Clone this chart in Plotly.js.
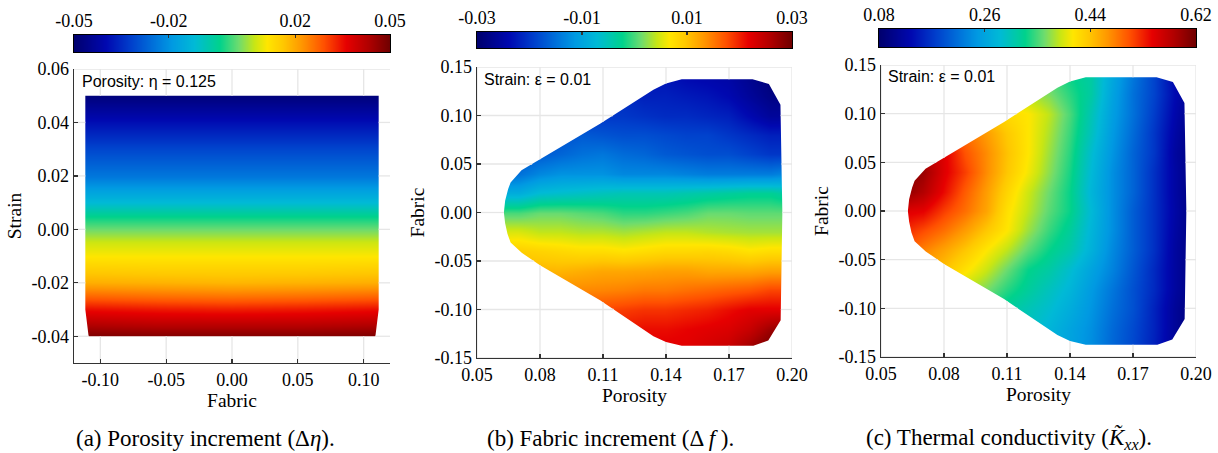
<!DOCTYPE html>
<html><head><meta charset="utf-8">
<script src="https://cdn.plot.ly/plotly-3.0.1.min.js"></script>
<style>html,body{margin:0;padding:0;background:#fff;}#chart{width:1218px;height:453px;}</style>
</head><body><div id="chart"></div>
<script>
// ================= DATA =================
// (a) Porosity increment, eta = 0.125
const fabricA = [-0.11, -0.055, 0, 0.055, 0.11];
const strainA = [-0.04, -0.035, -0.03, -0.025, -0.02, -0.015, -0.01, -0.005, 0, 0.005, 0.01, 0.02, 0.03, 0.04, 0.05];
const dEta = [
  [0.0485, 0.048, 0.048, 0.048, 0.0485],
  [0.042, 0.041, 0.041, 0.041, 0.042],
  [0.035, 0.034, 0.0335, 0.034, 0.035],
  [0.027, 0.026, 0.0255, 0.026, 0.027],
  [0.019, 0.0185, 0.018, 0.0185, 0.019],
  [0.015, 0.0145, 0.0145, 0.0145, 0.015],
  [0.011, 0.011, 0.011, 0.011, 0.011],
  [0.0075, 0.0075, 0.0075, 0.0075, 0.0075],
  [0.002, 0.002, 0.002, 0.002, 0.002],
  [-0.004, -0.004, -0.004, -0.004, -0.004],
  [-0.012, -0.012, -0.012, -0.012, -0.012],
  [-0.024, -0.024, -0.024, -0.024, -0.024],
  [-0.031, -0.031, -0.031, -0.031, -0.031],
  [-0.039, -0.039, -0.039, -0.039, -0.039],
  [-0.048, -0.048, -0.048, -0.048, -0.048]
];
const outlineFabricA = [-0.1114, 0.1114, 0.1114, 0.1089, -0.1089, -0.1114];
const outlineStrainA = [0.05, 0.05, -0.03, -0.04, -0.04, -0.03];

// shared grid for (b) and (c), strain = 0.01
const porosityGrid = [0.062, 0.07, 0.08, 0.09, 0.10, 0.11, 0.12, 0.13, 0.14, 0.15, 0.16, 0.17, 0.18, 0.19, 0.197];
const fabricGrid = [-0.14, -0.12, -0.10, -0.08, -0.06, -0.04, -0.02, 0, 0.02, 0.04, 0.06, 0.08, 0.10, 0.12, 0.14];

// (b) Fabric increment
const dFabric = [
  [0.016,0.017,0.018,0.019,0.02,0.021,0.021,0.022,0.022,0.022,0.023,0.024,0.027,0.030,0.030],
  [0.015,0.016,0.017,0.018,0.019,0.020,0.0205,0.021,0.021,0.0215,0.022,0.0225,0.024,0.027,0.028],
  [0.014,0.015,0.016,0.017,0.0175,0.018,0.0185,0.019,0.019,0.0195,0.020,0.021,0.022,0.022,0.022],
  [0.013,0.0135,0.014,0.014,0.014,0.0142,0.0145,0.015,0.015,0.0155,0.016,0.0165,0.017,0.018,0.018],
  [0.011,0.011,0.011,0.011,0.0115,0.012,0.012,0.0122,0.0125,0.0125,0.012,0.012,0.012,0.0125,0.0125],
  [0.0085,0.009,0.0085,0.008,0.0075,0.0075,0.007,0.0075,0.008,0.008,0.0082,0.0078,0.007,0.0075,0.0075],
  [0.005,0.005,0.004,0.004,0.0035,0.0035,0.003,0.0035,0.004,0.004,0.0035,0.0032,0.003,0.003,0.003],
  [0.0,0.0,0.001,0.001,0.0005,0.0,-0.001,-0.001,-0.0005,0.0,0.001,0.001,0.0007,0.0007,0.0007],
  [-0.009,-0.009,-0.007,-0.0065,-0.006,-0.0055,-0.005,-0.005,-0.005,-0.0045,-0.004,-0.0035,-0.003,-0.003,-0.004],
  [-0.016,-0.015,-0.013,-0.012,-0.012,-0.012,-0.013,-0.013,-0.013,-0.0135,-0.014,-0.014,-0.014,-0.014,-0.013],
  [-0.018,-0.018,-0.017,-0.016,-0.015,-0.0145,-0.0155,-0.016,-0.017,-0.0175,-0.018,-0.018,-0.019,-0.020,-0.020],
  [-0.019,-0.019,-0.018,-0.018,-0.017,-0.0175,-0.018,-0.018,-0.0185,-0.019,-0.019,-0.020,-0.021,-0.022,-0.022],
  [-0.020,-0.020,-0.020,-0.020,-0.020,-0.020,-0.020,-0.0205,-0.021,-0.021,-0.0215,-0.022,-0.024,-0.026,-0.026],
  [-0.021,-0.021,-0.021,-0.021,-0.021,-0.021,-0.021,-0.022,-0.022,-0.0225,-0.023,-0.024,-0.026,-0.028,-0.028],
  [-0.022,-0.022,-0.022,-0.022,-0.022,-0.022,-0.022,-0.023,-0.023,-0.024,-0.0245,-0.025,-0.027,-0.029,-0.029]
];

// (c) Thermal conductivity K_xx
const kxx = [
  [0.40,0.38,0.36,0.34,0.32,0.305,0.29,0.275,0.258,0.238,0.208,0.183,0.153,0.113,0.09],
  [0.41,0.39,0.37,0.35,0.33,0.315,0.30,0.28,0.26,0.24,0.21,0.185,0.155,0.115,0.092],
  [0.43,0.41,0.385,0.36,0.34,0.32,0.305,0.29,0.27,0.245,0.215,0.19,0.155,0.115,0.095],
  [0.45,0.43,0.41,0.385,0.365,0.34,0.32,0.30,0.28,0.25,0.22,0.19,0.16,0.12,0.10],
  [0.48,0.46,0.44,0.415,0.39,0.36,0.33,0.315,0.29,0.26,0.23,0.195,0.16,0.12,0.10],
  [0.50,0.48,0.46,0.437,0.41,0.385,0.355,0.33,0.31,0.275,0.235,0.20,0.165,0.12,0.10],
  [0.525,0.51,0.49,0.465,0.437,0.41,0.375,0.345,0.32,0.28,0.24,0.20,0.165,0.123,0.10],
  [0.55,0.545,0.515,0.49,0.46,0.415,0.385,0.355,0.33,0.285,0.24,0.20,0.165,0.125,0.10],
  [0.60,0.58,0.54,0.50,0.465,0.425,0.39,0.36,0.33,0.28,0.24,0.205,0.165,0.123,0.10],
  [0.61,0.595,0.55,0.515,0.475,0.437,0.405,0.37,0.335,0.285,0.24,0.205,0.165,0.123,0.10],
  [0.60,0.58,0.55,0.505,0.475,0.44,0.41,0.375,0.34,0.29,0.245,0.205,0.17,0.12,0.10],
  [0.57,0.55,0.52,0.49,0.465,0.435,0.41,0.38,0.345,0.30,0.25,0.21,0.17,0.125,0.10],
  [0.52,0.50,0.48,0.46,0.44,0.42,0.41,0.385,0.35,0.305,0.255,0.215,0.175,0.13,0.105],
  [0.47,0.46,0.45,0.43,0.41,0.39,0.38,0.365,0.34,0.315,0.26,0.215,0.18,0.135,0.11],
  [0.45,0.44,0.43,0.41,0.39,0.37,0.36,0.35,0.33,0.315,0.265,0.22,0.18,0.13,0.105]
];

// outline of the sampled domain (porosity, fabric) for (b) and (c)
const outlinePorosity = [0.0628,0.0634,0.0648,0.0660,0.0712,0.0768,0.1086,0.1340,0.1400,0.1475,0.1812,0.1890,0.1945,0.1954,
                         0.1946,0.1887,0.1816,0.1475,0.1400,0.1340,0.1086,0.0800,0.0713,0.0660,0.0645,0.0634];
const outlineFabric   = [0.000,0.012,0.024,0.031,0.0435,0.0507,0.0915,0.1265,0.1330,0.1373,0.1373,0.1325,0.1110,0.000,
                         -0.1110,-0.1320,-0.1373,-0.1373,-0.1335,-0.1275,-0.0905,-0.0545,-0.0415,-0.0310,-0.0220,-0.0110];

// colour-bar ranges and tick labels
const cbRangeA = [-0.05, 0.05], cbTickA = [-0.05, -0.02, 0.02, 0.05], cbLabelA = ['-0.05', '-0.02', '0.02', '0.05'];
const cbRangeB = [-0.03, 0.03], cbTickB = [-0.03, -0.01, 0.01, 0.03], cbLabelB = ['-0.03', '-0.01', '0.01', '0.03'];
const cbRangeC = [0.08, 0.62],  cbTickC = [0.08, 0.26, 0.44, 0.62],   cbLabelC = ['0.08', '0.26', '0.44', '0.62'];

// axis ticks
const xTickA = [-0.10, -0.05, 0.00, 0.05, 0.10], xLabelA = ['-0.10', '-0.05', '0.00', '0.05', '0.10'];
const yTickA = [-0.04, -0.02, 0.00, 0.02, 0.04, 0.06], yLabelA = ['-0.04', '-0.02', '0.00', '0.02', '0.04', '0.06'];
const xTickBC = [0.05, 0.08, 0.11, 0.14, 0.17, 0.20], xLabelBC = ['0.05', '0.08', '0.11', '0.14', '0.17', '0.20'];
const yTickBC = [-0.15, -0.10, -0.05, 0.00, 0.05, 0.10, 0.15], yLabelBC = ['-0.15', '-0.10', '-0.05', '0.00', '0.05', '0.10', '0.15'];

// ================= STYLE / LAYOUT =================
const W = 1218, H = 453;
const SERIF = 'Liberation Serif, Times New Roman, serif';
const SANS = 'Liberation Sans, Arial, sans-serif';
const jet = [
  [0.00, '#00006e'], [0.10, '#0008b0'], [0.18, '#0040cc'], [0.26, '#0078dc'], [0.31, '#009ae2'],
  [0.38, '#00bad6'], [0.46, '#00d28c'], [0.52, '#6edc6e'], [0.57, '#c8e614'], [0.61, '#ffe600'],
  [0.66, '#ffc800'], [0.72, '#ff9600'], [0.79, '#ff5000'], [0.86, '#e60000'], [0.93, '#b00000'], [1.00, '#6e0000']
];
const dxp = (a, b) => [a / W, b / W];
const dyp = (top, bot) => [1 - bot / H, 1 - top / H];

const boxes = {
  a: {x: [74, 390], y: [69, 363], cx: [74, 390], cy: [35, 52]},
  b: {x: [477, 792], y: [67, 358], cx: [477, 792], cy: [32, 48]},
  c: {x: [881, 1196], y: [65, 357], cx: [879, 1196], cy: [29, 47]}
};

function heat(x, y, z, rng, xa, ya) {
  return {type: 'heatmap', x: x, y: y, z: z, zmin: rng[0], zmax: rng[1], colorscale: jet,
          zsmooth: 'best', showscale: false, hoverinfo: 'skip', xaxis: xa, yaxis: ya};
}
function maskTrace(px, py, xr, yr, xa, ya) {
  const n = px.length;
  let k = 0;
  for (let i = 1; i < n; i++) if (px[i] < px[k]) k = i;
  let area = 0;
  for (let i = 0; i < n; i++) { const j = (i + 1) % n; area += px[i] * py[j] - px[j] * py[i]; }
  const order = [];
  for (let s = 0; s < n; s++) order.push(area > 0 ? (k - s + n) % n : (k + s) % n);
  const ex = (xr[1] - xr[0]) * 0.05, ey = (yr[1] - yr[0]) * 0.05;
  const X0 = xr[0] - ex, X1 = xr[1] + ex, Y0 = yr[0] - ey, Y1 = yr[1] + ey;
  const vy = py[k];
  const xs = [X0, X0, X1, X1, X0, X0], ys = [vy, Y0, Y0, Y1, Y1, vy];
  order.forEach(i => { xs.push(px[i]); ys.push(py[i]); });
  xs.push(px[k], X0); ys.push(py[k], vy);
  return {type: 'scatter', mode: 'lines', x: xs, y: ys, fill: 'toself', fillcolor: '#ffffff',
          line: {width: 0, simplify: false}, hoverinfo: 'skip', showlegend: false, xaxis: xa, yaxis: ya};
}
function gridTrace(px, py, xt, yt, xr, yr, xa, ya) {
  const n = px.length, xs = [], ys = [];
  function cuts(c, vertical) {
    const out = [];
    for (let i = 0; i < n; i++) {
      const j = (i + 1) % n;
      const ac = vertical ? px[i] : py[i], bc = vertical ? px[j] : py[j];
      if ((ac <= c && bc > c) || (bc <= c && ac > c)) {
        const t = (c - ac) / (bc - ac);
        out.push(vertical ? py[i] + t * (py[j] - py[i]) : px[i] + t * (px[j] - px[i]));
      }
    }
    return out.sort((p, q) => p - q);
  }
  xt.forEach(c => {
    const pts = [yr[0]].concat(cuts(c, true), [yr[1]]);
    for (let j = 0; j + 1 < pts.length; j += 2) { xs.push(c, c, null); ys.push(pts[j], pts[j + 1], null); }
  });
  yt.forEach(c => {
    const pts = [xr[0]].concat(cuts(c, false), [xr[1]]);
    for (let j = 0; j + 1 < pts.length; j += 2) { xs.push(pts[j], pts[j + 1], null); ys.push(c, c, null); }
  });
  return {type: 'scatter', mode: 'lines', x: xs, y: ys, line: {color: '#e6e6e6', width: 1.3},
          connectgaps: false, hoverinfo: 'skip', showlegend: false, xaxis: xa, yaxis: ya};
}
function cbTrace(rng, xa, ya) {
  return {type: 'heatmap', x: rng, y: [0, 1], z: [rng, rng], zmin: rng[0], zmax: rng[1], colorscale: jet,
          zsmooth: 'best', showscale: false, hoverinfo: 'skip', xaxis: xa, yaxis: ya};
}
function mainAxis(dom, anchor, rng, tv, tt, title, standoff) {
  return {domain: dom, anchor: anchor, range: rng, tickmode: 'array', tickvals: tv, ticktext: tt,
          ticks: 'inside', ticklen: 4, tickwidth: 1.2, tickcolor: '#333', showline: true, linecolor: '#333',
          linewidth: 1.3, showgrid: false, zeroline: false, automargin: false, fixedrange: true,
          tickfont: {family: SERIF, size: 18, color: '#000'},
          title: {text: title, font: {family: SERIF, size: 19.5, color: '#000'}, standoff: standoff}};
}
function cbXAxis(dom, anchor, rng, tv, tt) {
  return {domain: dom, anchor: anchor, range: rng, side: 'top', tickmode: 'array', tickvals: tv, ticktext: tt,
          ticks: 'inside', ticklen: 3, tickwidth: 1.2, tickcolor: '#333', showline: true, mirror: true,
          linecolor: '#000', linewidth: 1.3, showgrid: false, zeroline: false, automargin: false, fixedrange: true,
          tickfont: {family: SERIF, size: 18, color: '#000'}};
}
function cbYAxis(dom, anchor) {
  return {domain: dom, anchor: anchor, range: [0, 1], showticklabels: false, ticks: '', showline: true, mirror: true,
          linecolor: '#000', linewidth: 1.3, showgrid: false, zeroline: false, automargin: false, fixedrange: true};
}

const xrA = [-0.12, 0.12], yrA = [-0.05, 0.06];
const xrBC = [0.05, 0.20], yrBC = [-0.15, 0.15];

const data = [
  heat(fabricA, strainA, dEta, cbRangeA, 'x', 'y'),
  maskTrace(outlineFabricA, outlineStrainA, xrA, yrA, 'x', 'y'),
  gridTrace(outlineFabricA, outlineStrainA, xTickA, yTickA, xrA, yrA, 'x', 'y'),
  cbTrace(cbRangeA, 'x2', 'y2'),

  heat(porosityGrid, fabricGrid, dFabric, cbRangeB, 'x3', 'y3'),
  maskTrace(outlinePorosity, outlineFabric, xrBC, yrBC, 'x3', 'y3'),
  gridTrace(outlinePorosity, outlineFabric, xTickBC, yTickBC, xrBC, yrBC, 'x3', 'y3'),
  cbTrace(cbRangeB, 'x4', 'y4'),

  heat(porosityGrid, fabricGrid, kxx, cbRangeC, 'x5', 'y5'),
  maskTrace(outlinePorosity, outlineFabric, xrBC, yrBC, 'x5', 'y5'),
  gridTrace(outlinePorosity, outlineFabric, xTickBC, yTickBC, xrBC, yrBC, 'x5', 'y5'),
  cbTrace(cbRangeC, 'x6', 'y6')
];

function note(text, px, py, opts) {
  return Object.assign({text: text, x: px / W, y: 1 - py / H, xref: 'paper', yref: 'paper', showarrow: false,
                        xanchor: 'left', yanchor: 'middle'}, opts);
}
const sansFont = {family: SANS, size: 16, color: '#000'};
const capFont = {family: SERIF, size: 23, color: '#000'};

const layout = {
  width: W, height: H, margin: {l: 0, r: 0, t: 0, b: 0}, paper_bgcolor: '#fff', plot_bgcolor: '#fff',
  showlegend: false,
  xaxis:  mainAxis(dxp(...boxes.a.x), 'y',  xrA, xTickA, xLabelA, 'Fabric', 4),
  yaxis:  mainAxis(dyp(...boxes.a.y), 'x',  yrA, yTickA, yLabelA, 'Strain', 4),
  xaxis2: cbXAxis(dxp(...boxes.a.cx), 'y2', cbRangeA, cbTickA, cbLabelA),
  yaxis2: cbYAxis(dyp(...boxes.a.cy), 'x2'),
  xaxis3: mainAxis(dxp(...boxes.b.x), 'y3', xrBC, xTickBC, xLabelBC, 'Porosity', 4),
  yaxis3: mainAxis(dyp(...boxes.b.y), 'x3', yrBC, yTickBC, yLabelBC, 'Fabric', 4),
  xaxis4: cbXAxis(dxp(...boxes.b.cx), 'y4', cbRangeB, cbTickB, cbLabelB),
  yaxis4: cbYAxis(dyp(...boxes.b.cy), 'x4'),
  xaxis5: mainAxis(dxp(...boxes.c.x), 'y5', xrBC, xTickBC, xLabelBC, 'Porosity', 4),
  yaxis5: mainAxis(dyp(...boxes.c.y), 'x5', yrBC, yTickBC, yLabelBC, 'Fabric', 4),
  xaxis6: cbXAxis(dxp(...boxes.c.cx), 'y6', cbRangeC, cbTickC, cbLabelC),
  yaxis6: cbYAxis(dyp(...boxes.c.cy), 'x6'),
  annotations: [
    note('Porosity: η = 0.125', 80, 81, {font: sansFont}),
    note('Strain: ε = 0.01', 482, 79, {font: sansFont}),
    note('Strain: ε = 0.01', 886, 77, {font: sansFont}),
    note('(a) Porosity increment (Δ<i>η</i>).', 205, 438, {font: capFont, xanchor: 'center'}),
    note('(b) Fabric increment (Δ <i>f</i> ).', 610, 438, {font: capFont, xanchor: 'center'}),
    note('(c) Thermal conductivity (<i>K̃</i><sub><i>xx</i></sub>).', 1009, 438, {font: capFont, xanchor: 'center'})
  ]
};

Plotly.newPlot('chart', data, layout, {staticPlot: true, displayModeBar: false});
</script>
</body></html>
